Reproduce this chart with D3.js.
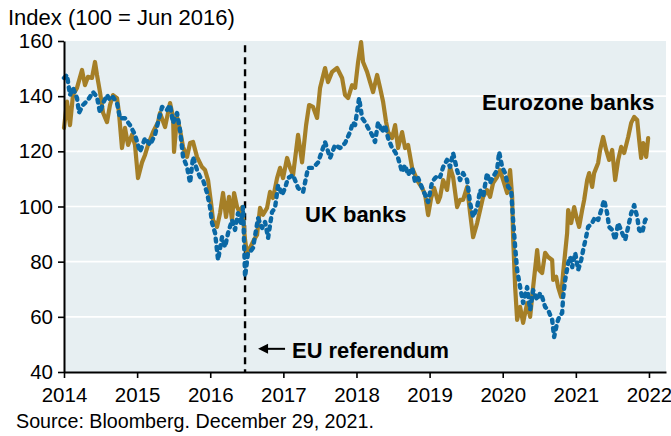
<!DOCTYPE html>
<html><head><meta charset="utf-8">
<script src="https://cdn.jsdelivr.net/npm/d3@7/dist/d3.min.js"></script>
<style>
body{margin:0;background:#fff}
text{font-family:"Liberation Sans",Arial,Helvetica,sans-serif;fill:#000}
</style>
</head><body>
<svg id="chart" width="671" height="436"></svg>
<script>
// ---- data (decimal years, index 100 = Jun 2016) ----
const euroDates=[2014.000,2014.041,2014.082,2014.123,2014.178,2014.246,2014.287,2014.328,2014.383,2014.424,2014.451,2014.492,2014.534,2014.588,2014.629,2014.670,2014.725,2014.752,2014.793,2014.834,2014.876,2014.930,2014.971,2015.012,2015.067,2015.108,2015.149,2015.218,2015.286,2015.313,2015.382,2015.450,2015.491,2015.505,2015.546,2015.587,2015.628,2015.683,2015.724,2015.765,2015.819,2015.888,2015.929,2015.970,2016.011,2016.038,2016.093,2016.134,2016.175,2016.216,2016.257,2016.298,2016.326,2016.367,2016.408,2016.435,2016.476,2016.503,2016.544,2016.599,2016.640,2016.681,2016.722,2016.777,2016.818,2016.859,2016.914,2016.955,2016.996,2017.051,2017.092,2017.133,2017.201,2017.256,2017.311,2017.352,2017.406,2017.461,2017.502,2017.570,2017.611,2017.666,2017.735,2017.803,2017.844,2017.885,2017.940,2017.981,2018.022,2018.063,2018.090,2018.145,2018.186,2018.227,2018.282,2018.323,2018.364,2018.405,2018.432,2018.487,2018.528,2018.569,2018.624,2018.665,2018.706,2018.761,2018.802,2018.843,2018.898,2018.939,2018.980,2019.021,2019.062,2019.116,2019.144,2019.185,2019.239,2019.280,2019.321,2019.376,2019.417,2019.458,2019.513,2019.554,2019.595,2019.650,2019.691,2019.732,2019.786,2019.827,2019.868,2019.923,2019.964,2020.006,2020.060,2020.101,2020.129,2020.142,2020.170,2020.197,2020.238,2020.279,2020.334,2020.375,2020.416,2020.471,2020.498,2020.539,2020.580,2020.621,2020.676,2020.690,2020.731,2020.758,2020.799,2020.826,2020.881,2020.895,2020.936,2020.977,2021.018,2021.045,2021.086,2021.114,2021.155,2021.182,2021.223,2021.250,2021.305,2021.332,2021.373,2021.414,2021.455,2021.497,2021.538,2021.579,2021.620,2021.661,2021.716,2021.757,2021.798,2021.839,2021.866,2021.893,2021.921,2021.962,2021.989];
const euroValues=[128.5,138,129.5,140.4,143,149.5,144,147,146.6,152.4,147.7,141.5,134,130.6,136.8,140.4,139.3,134,121.2,128.5,122.3,126,122.3,110.3,116,118.7,122.3,127,130.6,133.9,128.8,137.5,132.5,119.8,132.5,127.7,121.6,118,123,123.4,118,114.3,113.2,109.6,101.3,95.1,92.6,97.6,104.9,96.2,103.5,95.1,104.9,99.8,97.6,99.8,87.9,83,85,88,89.7,99.5,97,99.5,105.3,103.1,110.3,114,110.3,117.6,114,111.4,126,116,129.5,136.8,136.1,132.1,143,150.2,145.1,148.8,150.2,146.6,140.4,139.3,144,143,152.4,159.6,152.4,148.8,145.1,141.5,147.7,143,138,130.6,127,124.8,129.5,121.2,127,121.2,122.3,114,111.4,108.9,106.7,104.2,96.9,103.1,106.7,101.6,103.5,109.6,106,114.3,110.7,99.8,102.4,102.4,107.1,97.6,88.9,94,98.7,103.5,106,103.5,108.5,110.7,113.2,109.6,104.9,113.2,103.5,88.9,70.8,58.9,63.6,57.8,65,60,70.8,84.2,77,75.9,83.2,81.7,80.6,73.4,74.5,70.8,67.2,75.9,90.4,98.7,94,99.8,95.1,92.6,98.7,102.4,109.6,112.1,107.1,112.1,115.8,120.5,125.2,120.5,116.9,120.5,109.6,116.9,121.6,119.4,125.2,130.3,132.5,131.4,124.1,117.6,123,118,124.8];

const ukDates=[2014.000,2014.041,2014.082,2014.123,2014.178,2014.205,2014.260,2014.328,2014.397,2014.451,2014.492,2014.534,2014.588,2014.629,2014.670,2014.725,2014.766,2014.834,2014.903,2014.971,2015.040,2015.108,2015.176,2015.245,2015.300,2015.341,2015.409,2015.450,2015.491,2015.546,2015.587,2015.628,2015.683,2015.724,2015.765,2015.819,2015.860,2015.902,2015.956,2015.997,2016.025,2016.066,2016.107,2016.161,2016.202,2016.244,2016.298,2016.339,2016.380,2016.421,2016.449,2016.476,2016.517,2016.544,2016.585,2016.654,2016.709,2016.750,2016.791,2016.845,2016.886,2016.928,2016.982,2017.023,2017.064,2017.133,2017.201,2017.270,2017.338,2017.406,2017.475,2017.570,2017.639,2017.707,2017.776,2017.844,2017.912,2017.954,2017.981,2018.036,2018.077,2018.118,2018.159,2018.213,2018.254,2018.296,2018.350,2018.391,2018.432,2018.487,2018.528,2018.569,2018.624,2018.665,2018.706,2018.761,2018.802,2018.843,2018.898,2018.939,2018.980,2019.034,2019.075,2019.116,2019.144,2019.185,2019.239,2019.280,2019.321,2019.376,2019.417,2019.458,2019.513,2019.554,2019.595,2019.650,2019.691,2019.732,2019.786,2019.827,2019.868,2019.923,2019.951,2019.992,2020.033,2020.074,2020.115,2020.142,2020.170,2020.197,2020.238,2020.279,2020.334,2020.375,2020.416,2020.471,2020.512,2020.539,2020.580,2020.621,2020.676,2020.703,2020.744,2020.772,2020.813,2020.826,2020.854,2020.895,2020.922,2020.950,2020.991,2021.032,2021.073,2021.100,2021.141,2021.168,2021.223,2021.264,2021.305,2021.360,2021.387,2021.428,2021.455,2021.497,2021.538,2021.579,2021.633,2021.675,2021.716,2021.757,2021.798,2021.839,2021.866,2021.907,2021.948,2021.989];
const ukValues=[146.6,147.7,140.4,143,139.3,134,136.8,138.6,141.5,139.7,134,137.5,140.4,138.6,139.7,137.5,132,132,129.5,126,119.8,124.8,122.3,126,132,136.1,135,136.8,130.3,133.9,127.7,118,114.3,108.5,118,113.2,110.7,109.6,104.9,99.8,94,90.4,80.6,88.9,85.3,90.4,95.1,91.5,97.6,94,99.8,74.5,83.2,83.5,85,95.8,92.2,94.4,88.6,98,99.5,107.8,104.2,106.7,110.3,111.4,106.7,105.3,114,114,116,123.4,117.6,122.3,121.2,123,127,130.6,129.5,139.3,132.1,130.6,128.5,126,123.4,130.6,127,129.5,124.8,121.2,119.8,117.6,112.5,115,111.4,114,108.9,110.3,106.7,104.2,101.6,108.9,110.3,111.4,110.7,114.3,116.9,114.3,119.4,113.2,109.6,112.1,109.6,101.3,96.2,99.8,106,103.5,112.1,108.5,110.7,113.2,119.8,114.3,112.1,107.1,106,95.1,85.3,77,70.8,65,70.8,62.5,69.7,66.1,68.6,67.2,63.6,62.5,58.9,52.7,57.8,60,61.4,67.2,73.4,79.5,81.7,78,83.2,77,80.6,84.2,89,92.6,94,96.2,95.1,99.8,102.4,97.6,92.6,91.5,87.9,94,90.4,87.9,92.6,97.6,100.5,96.2,91.5,90.4,95.1,96.2];

const yTicks=[40,60,80,100,120,140,160];
const xTicks=[2014,2015,2016,2017,2018,2019,2020,2021,2022];
const referendumDate=2016.476;
const yTitle="Index (100 = Jun 2016)";
const sourceNote="Source: Bloomberg. December 29, 2021.";
const seriesNames=["Eurozone banks","UK banks"];
const refLabel="EU referendum";

// ---- layout ----
const svg=d3.select("#chart");
const x=d3.scaleLinear().domain([2014,2022.233]).range([64,666]);
const y=d3.scaleLinear().domain([40,160]).range([372,41]);
const colEuro="#a57f27", colUK="#0a68a5", bg="#e7eff2";

svg.append("rect").attr("x",x(2014)).attr("y",y(160))
  .attr("width",x(2022.233)-x(2014)).attr("height",y(40)-y(160)).attr("fill",bg);

svg.append("g").selectAll("line").data(yTicks.filter(d=>d>40&&d<160)).join("line")
  .attr("x1",x(2014)).attr("x2",x(2022.233)).attr("y1",d=>y(d)).attr("y2",d=>y(d))
  .attr("stroke","#fff").attr("stroke-width",1.6);

// referendum line
svg.append("line").attr("x1",x(referendumDate)).attr("x2",x(referendumDate))
  .attr("y1",y(158.5)).attr("y2",y(40)).attr("stroke","#000").attr("stroke-width",2.4)
  .attr("stroke-dasharray","7,5");

const line=(dates,vals)=>d3.line().x((d,i)=>x(dates[i])).y(d=>y(d))(vals);

svg.append("path").attr("d",line(euroDates,euroValues)).attr("fill","none")
  .attr("stroke",colEuro).attr("stroke-width",4.2).attr("stroke-linejoin","round").attr("stroke-linecap","round");
svg.append("path").attr("d",line(ukDates,ukValues)).attr("fill","none")
  .attr("stroke",colUK).attr("stroke-width",4.4).attr("stroke-linejoin","round").attr("stroke-linecap","round")
  .attr("stroke-dasharray","3,5.4");

// axes
const yAxis=svg.append("g").attr("transform",`translate(${x(2014)},0)`)
  .call(d3.axisLeft(y).tickValues(yTicks).tickSize(6).tickSizeOuter(0).tickPadding(5));
const xAxis=svg.append("g").attr("transform",`translate(0,${y(40)})`)
  .call(d3.axisBottom(x).tickValues(xTicks).tickFormat(d3.format("d")).tickSize(6).tickSizeOuter(0).tickPadding(9));
[yAxis,xAxis].forEach(g=>{
  g.select(".domain").attr("stroke","#000").attr("stroke-width",2);
  g.selectAll(".tick line").attr("stroke","#000").attr("stroke-width",1.6);
  g.selectAll(".tick text").attr("font-size",20.5).attr("font-family","'Liberation Sans',Arial,sans-serif").attr("fill","#000");
});

// texts
svg.append("text").attr("x",8).attr("y",25).attr("font-size",22).text(yTitle);
svg.append("text").attr("x",16).attr("y",428).attr("font-size",19.7).text(sourceNote);

svg.append("text").attr("x",x(2019.718)).attr("y",y(135)).attr("font-size",22.3)
  .attr("font-weight","bold").text(seriesNames[0]);
svg.append("text").attr("x",x(2017.297)).attr("y",y(94.4)).attr("font-size",22)
  .attr("font-weight","bold").text(seriesNames[1]);
svg.append("text").attr("x",x(2017.119)).attr("y",y(45.1)).attr("font-size",21.9)
  .attr("font-weight","bold").text(refLabel);

// arrow
const ay=y(48.4), ax0=x(2017.023), ax1=x(2016.654);
svg.append("line").attr("x1",ax0).attr("x2",ax1+8).attr("y1",ay).attr("y2",ay)
  .attr("stroke","#000").attr("stroke-width",2);
svg.append("path").attr("d",`M${ax1},${ay}L${ax1+10},${ay-5}L${ax1+10},${ay+5}Z`).attr("fill","#000");
</script>
</body></html>
